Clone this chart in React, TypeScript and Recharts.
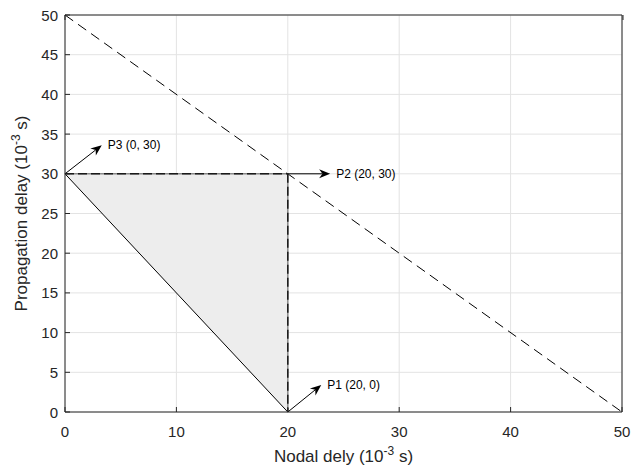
import {
  Area,
  CartesianGrid,
  ComposedChart,
  Line,
  ReferenceLine,
  XAxis,
  YAxis,
} from 'recharts'

const FONT = '"Liberation Sans", Arial, Helvetica, sans-serif'

const X_TICKS = [0, 10, 20, 30, 40, 50]
const Y_TICKS = [0, 5, 10, 15, 20, 25, 30, 35, 40, 45, 50]

// vertices of the shaded region
const REGION_X = [0, 20]
const REGION_LOW = [30, 0]
const REGION_HIGH = [30, 30]

const LIMIT_X = [0, 50]
const LIMIT_Y = [50, 0]
const HYP_X = [0, 20]
const HYP_Y = [30, 0]
const TOP_X = [0, 20]
const TOP_Y = [30, 30]
const SIDE_X = [20, 20]
const SIDE_Y = [30, 0]

// arrows: start point, tip, label
const ARROW_NAMES = ['P3 (0, 30)', 'P2 (20, 30)', 'P1 (20, 0)']
const ARROW_FROM_X = [0, 20, 20]
const ARROW_FROM_Y = [30, 30, 0]
const ARROW_TO_X = [3.3, 23.8, 23.0]
const ARROW_TO_Y = [33.6, 30, 3.4]

const region = REGION_X.map((x, i) => ({ x, range: [REGION_LOW[i], REGION_HIGH[i]] }))
const pts = (xs: number[], ys: number[]) => xs.map((x, i) => ({ x, y: ys[i] }))

function arrowShape(name: string) {
  return (p: any) => {
    const { x1, y1, x2, y2 } = p
    const ang = Math.atan2(y2 - y1, x2 - x1)
    const len = 11
    const w = 4.5
    const bx = x2 - len * Math.cos(ang)
    const by = y2 - len * Math.sin(ang)
    const nx = -Math.sin(ang)
    const ny = Math.cos(ang)
    const mx = x2 - len * 0.7 * Math.cos(ang)
    const my = y2 - len * 0.7 * Math.sin(ang)
    return (
      <g>
        <line x1={x1} y1={y1} x2={mx} y2={my} stroke="#000" strokeWidth={1} />
        <polygon
          points={`${x2},${y2} ${bx + nx * w},${by + ny * w} ${mx},${my} ${bx - nx * w},${by - ny * w}`}
          fill="#000"
        />
        <text x={x2 + 6} y={y2 + 4} fontSize={12} fontFamily={FONT} fill="#000">
          {name}
        </text>
      </g>
    )
  }
}

function XTick(props: any) {
  const { x, y, payload } = props
  return (
    <g>
      <line x1={x} y1={y} x2={x} y2={y - 5} stroke="#262626" />
      <text x={x} y={y + 25} textAnchor="middle" fontSize={15} fontFamily={FONT} fill="#262626">
        {payload.value}
      </text>
    </g>
  )
}

function YTick(props: any) {
  const { x, y, payload } = props
  return (
    <g>
      <line x1={x} y1={y} x2={x + 5} y2={y} stroke="#262626" />
      <text x={x - 7} y={y + 5.5} textAnchor="end" fontSize={15} fontFamily={FONT} fill="#262626">
        {payload.value}
      </text>
    </g>
  )
}

function TopTick(props: any) {
  const { x, y } = props
  return <line x1={x} y1={y} x2={x} y2={y + 5} stroke="#262626" />
}

function RightTick(props: any) {
  const { x, y } = props
  return <line x1={x} y1={y} x2={x - 5} y2={y} stroke="#262626" />
}

function XLabel(props: any) {
  const { viewBox } = props
  const cx = viewBox.x + viewBox.width / 2
  return (
    <text x={cx} y={462} textAnchor="middle" fontSize={17} fontFamily={FONT} fill="#262626">
      Nodal dely (10
      <tspan dy={-7} fontSize={12}>-3</tspan>
      <tspan dy={7}> s)</tspan>
    </text>
  )
}

function YLabel(props: any) {
  const { viewBox } = props
  const cy = viewBox.y + viewBox.height / 2
  return (
    <text
      x={27}
      y={cy}
      textAnchor="middle"
      fontSize={17}
      fontFamily={FONT}
      fill="#262626"
      transform={`rotate(-90 27 ${cy})`}
    >
      Propagation delay (10
      <tspan dy={-7} fontSize={12}>-3</tspan>
      <tspan dy={7}> s)</tspan>
    </text>
  )
}

export default function App() {
  return (
    <div style={{ position: 'absolute', left: 0, top: 0, background: '#fff' }}>
      <ComposedChart
        width={631}
        height={472}
        data={region}
        margin={{ top: 14, right: 8, bottom: 59, left: 0 }}
      >
        <CartesianGrid stroke="#e3e3e3" />
        <XAxis
          xAxisId={0}
          type="number"
          dataKey="x"
          domain={[0, 50]}
          ticks={X_TICKS}
          tick={<XTick />}
          tickSize={0}
          tickMargin={0}
          tickLine={false}
          height={1}
          axisLine={{ stroke: '#262626' }}
          label={<XLabel />}
        />
        <XAxis
          xAxisId="top"
          orientation="top"
          type="number"
          domain={[0, 50]}
          ticks={X_TICKS}
          tick={<TopTick />}
          tickSize={0}
          tickMargin={0}
          tickLine={false}
          height={1}
          axisLine={{ stroke: '#262626' }}
        />
        <YAxis
          yAxisId={0}
          type="number"
          domain={[0, 50]}
          ticks={Y_TICKS}
          width={65}
          tick={<YTick />}
          tickSize={0}
          tickMargin={0}
          tickLine={false}
          axisLine={{ stroke: '#262626' }}
          label={<YLabel />}
        />
        <YAxis
          yAxisId="right"
          orientation="right"
          type="number"
          domain={[0, 50]}
          ticks={Y_TICKS}
          width={1}
          tick={<RightTick />}
          tickSize={0}
          tickMargin={0}
          tickLine={false}
          axisLine={{ stroke: '#262626' }}
        />
        <Area
          dataKey="range"
          type="linear"
          fill="#ededed"
          fillOpacity={1}
          stroke="none"
          isAnimationActive={false}
        />
        <Line
          data={pts(LIMIT_X, LIMIT_Y)}
          dataKey="y"
          type="linear"
          stroke="#000"
          strokeWidth={1}
          strokeDasharray="10 6"
          dot={false}
          isAnimationActive={false}
        />
        <Line
          data={pts(HYP_X, HYP_Y)}
          dataKey="y"
          type="linear"
          stroke="#000"
          strokeWidth={1}
          dot={false}
          isAnimationActive={false}
        />
        {[pts(TOP_X, TOP_Y), pts(SIDE_X, SIDE_Y)].map((d, i) => (
          <Line
            key={`solid${i}`}
            data={d}
            dataKey="y"
            type="linear"
            stroke="#8a8a8a"
            strokeWidth={1.5}
            dot={false}
            isAnimationActive={false}
          />
        ))}
        {[pts(TOP_X, TOP_Y), pts(SIDE_X, SIDE_Y)].map((d, i) => (
          <Line
            key={`dash${i}`}
            data={d}
            dataKey="y"
            type="linear"
            stroke="#1a1a1a"
            strokeWidth={1.5}
            strokeDasharray="9 4"
            dot={false}
            isAnimationActive={false}
          />
        ))}
        {ARROW_NAMES.map((name, i) => (
          <ReferenceLine
            key={name}
            segment={[
              { x: ARROW_FROM_X[i], y: ARROW_FROM_Y[i] },
              { x: ARROW_TO_X[i], y: ARROW_TO_Y[i] },
            ]}
            shape={arrowShape(name)}
          />
        ))}
      </ComposedChart>
    </div>
  )
}
